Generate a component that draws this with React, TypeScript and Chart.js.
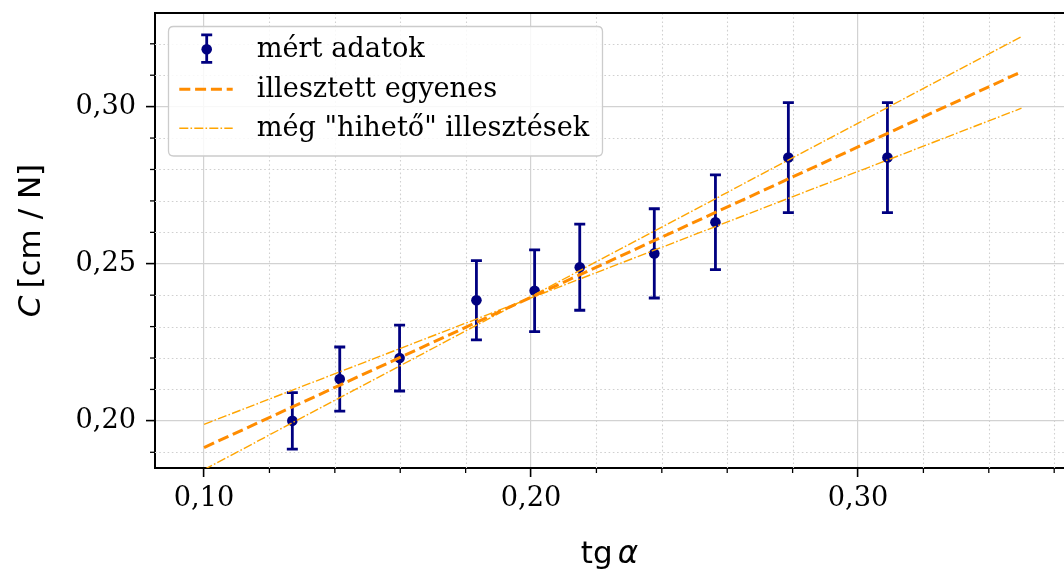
import React, { useEffect, useRef } from 'react';
import { Chart, registerables } from 'chart.js';

Chart.register(...registerables);

// ---- data ----
const xValues = [0.127, 0.1415, 0.1598, 0.1833, 0.2011, 0.2149, 0.2377, 0.2564, 0.2787, 0.309];
const yValues = [0.2, 0.2133, 0.22, 0.2384, 0.2414, 0.2489, 0.2533, 0.2632, 0.2838, 0.2838];
const yErrors = [0.009, 0.0102, 0.0105, 0.0126, 0.013, 0.0137, 0.0142, 0.0151, 0.0175, 0.0175];

const fitX = [0.1, 0.35];
const fitY = [0.1915, 0.3111];
const upperFitY = [0.1845, 0.3223];
const lowerFitY = [0.1989, 0.2995];

const xTicks = [0.1, 0.12, 0.14, 0.16, 0.18, 0.2, 0.22, 0.24, 0.26, 0.28, 0.3, 0.32, 0.34, 0.36];
const xMajorTicks = [0.1, 0.2, 0.3];
const yTicks = [0.19, 0.2, 0.21, 0.22, 0.23, 0.24, 0.25, 0.26, 0.27, 0.28, 0.29, 0.3, 0.31, 0.32];
const yMajorTicks = [0.2, 0.25, 0.3];

const seriesLabels = ['mért adatok', 'illesztett egyenes', 'még "hihető" illesztések'];
const xTitleParts = ['tg', 'α'];
const yTitleParts = ['C', '[cm / N]'];

const X_MIN = 0.085;
const X_MAX = 0.363;
const Y_MIN = 0.185;
const Y_MAX = 0.3298;

// ---- styles ----
const NAVY = '#000080';
const FIT_COLOR = '#ff8c00';
const RANGE_COLOR = '#ffa500';
const FIT_DASH = [11, 4.8];
const RANGE_DASH = [9, 2.2, 1.6, 2.2];
const SERIF = '"DejaVu Serif", serif';
const SANS = '"DejaVu Sans", sans-serif';
const TEXT_SIZE = 27.2;

const isMajor = (v: number, majors: number[]) => majors.some((m) => Math.abs(m - v) < 1e-6);
const fmt = (v: number) => v.toFixed(2).replace('.', ',');

const decorPlugin = {
  id: 'decor',
  beforeDatasetsDraw(chart: any) {
    const { ctx, chartArea } = chart;
    const xs = chart.scales.x;
    const ys = chart.scales.y;
    ctx.save();
    // minor dotted grid
    ctx.strokeStyle = '#d0d0d0';
    ctx.lineWidth = 1.1;
    ctx.setLineDash([1.6, 2.6]);
    xTicks.forEach((v) => {
      if (isMajor(v, xMajorTicks)) return;
      const px = Math.round(xs.getPixelForValue(v)) + 0.5;
      if (px < chartArea.left || px > chartArea.right) return;
      ctx.beginPath();
      ctx.moveTo(px, chartArea.top);
      ctx.lineTo(px, chartArea.bottom);
      ctx.stroke();
    });
    yTicks.forEach((v) => {
      if (isMajor(v, yMajorTicks)) return;
      const py = Math.round(ys.getPixelForValue(v)) + 0.5;
      if (py < chartArea.top || py > chartArea.bottom) return;
      ctx.beginPath();
      ctx.moveTo(chartArea.left, py);
      ctx.lineTo(chartArea.right, py);
      ctx.stroke();
    });
    ctx.setLineDash([]);
    // minor ticks
    ctx.strokeStyle = '#000';
    ctx.lineWidth = 1.3;
    xTicks.forEach((v) => {
      if (isMajor(v, xMajorTicks)) return;
      const px = xs.getPixelForValue(v);
      ctx.beginPath();
      ctx.moveTo(px, chartArea.bottom);
      ctx.lineTo(px, chartArea.bottom + 5);
      ctx.stroke();
    });
    yTicks.forEach((v) => {
      if (isMajor(v, yMajorTicks)) return;
      const py = ys.getPixelForValue(v);
      ctx.beginPath();
      ctx.moveTo(chartArea.left, py);
      ctx.lineTo(chartArea.left - 5, py);
      ctx.stroke();
    });
    // top spine
    ctx.lineWidth = 2;
    ctx.beginPath();
    ctx.moveTo(chartArea.left - 1, chartArea.top);
    ctx.lineTo(chartArea.right, chartArea.top);
    ctx.stroke();
    // error bars
    ctx.strokeStyle = NAVY;
    ctx.lineWidth = 2.8;
    xValues.forEach((x, i) => {
      const px = xs.getPixelForValue(x);
      const top = ys.getPixelForValue(yValues[i] + yErrors[i]);
      const bot = ys.getPixelForValue(yValues[i] - yErrors[i]);
      ctx.beginPath();
      ctx.moveTo(px, top);
      ctx.lineTo(px, bot);
      ctx.moveTo(px - 5.5, top);
      ctx.lineTo(px + 5.5, top);
      ctx.moveTo(px - 5.5, bot);
      ctx.lineTo(px + 5.5, bot);
      ctx.stroke();
    });
    ctx.restore();
  },
  afterDraw(chart: any) {
    const { ctx, chartArea } = chart;
    ctx.save();
    // legend box
    const bx = 168.5, by = 26.5, bw = 434, bh = 129.5, r = 5;
    ctx.beginPath();
    ctx.moveTo(bx + r, by);
    ctx.lineTo(bx + bw - r, by);
    ctx.quadraticCurveTo(bx + bw, by, bx + bw, by + r);
    ctx.lineTo(bx + bw, by + bh - r);
    ctx.quadraticCurveTo(bx + bw, by + bh, bx + bw - r, by + bh);
    ctx.lineTo(bx + r, by + bh);
    ctx.quadraticCurveTo(bx, by + bh, bx, by + bh - r);
    ctx.lineTo(bx, by + r);
    ctx.quadraticCurveTo(bx, by, bx + r, by);
    ctx.closePath();
    ctx.fillStyle = 'rgba(255,255,255,0.85)';
    ctx.fill();
    ctx.strokeStyle = '#cccccc';
    ctx.lineWidth = 1.3;
    ctx.stroke();

    const rows = [49.3, 89.3, 128.3];
    // errorbar icon
    const ix = 206.7;
    ctx.strokeStyle = NAVY;
    ctx.lineWidth = 2.8;
    ctx.beginPath();
    ctx.moveTo(ix, rows[0] - 14.5);
    ctx.lineTo(ix, rows[0] + 13);
    ctx.moveTo(ix - 5.5, rows[0] - 14.5);
    ctx.lineTo(ix + 5.5, rows[0] - 14.5);
    ctx.moveTo(ix - 5.5, rows[0] + 13);
    ctx.lineTo(ix + 5.5, rows[0] + 13);
    ctx.stroke();
    ctx.fillStyle = NAVY;
    ctx.beginPath();
    ctx.arc(ix, rows[0], 5.3, 0, Math.PI * 2);
    ctx.fill();
    // dashed line icon
    ctx.strokeStyle = FIT_COLOR;
    ctx.lineWidth = 3;
    ctx.setLineDash(FIT_DASH);
    ctx.beginPath();
    ctx.moveTo(179.3, rows[1]);
    ctx.lineTo(232.7, rows[1]);
    ctx.stroke();
    // dash-dot icon
    ctx.strokeStyle = RANGE_COLOR;
    ctx.lineWidth = 1.4;
    ctx.setLineDash(RANGE_DASH);
    ctx.beginPath();
    ctx.moveTo(179.3, rows[2]);
    ctx.lineTo(232.7, rows[2]);
    ctx.stroke();
    ctx.setLineDash([]);
    // legend texts
    ctx.fillStyle = '#000';
    ctx.font = `${TEXT_SIZE}px ${SERIF}`;
    ctx.textBaseline = 'middle';
    ctx.textAlign = 'left';
    seriesLabels.forEach((t, i) => ctx.fillText(t, 256.7, rows[i] + 1));

    // x title: tg α
    ctx.textBaseline = 'alphabetic';
    const normal = `31px ${SANS}`;
    const italic = `italic 31px ${SANS}`;
    ctx.font = normal;
    const w1 = ctx.measureText(xTitleParts[0]).width;
    const gap = 5;
    ctx.font = italic;
    const w2 = ctx.measureText(xTitleParts[1]).width;
    const cx = (chartArea.left + chartArea.right) / 2;
    const sx = cx - (w1 + gap + w2) / 2;
    ctx.font = normal;
    ctx.fillText(xTitleParts[0], sx, 563);
    ctx.font = italic;
    ctx.fillText(xTitleParts[1], sx + w1 + gap, 563);

    // y title: C [cm / N]
    ctx.save();
    const cy = (chartArea.top + chartArea.bottom) / 2;
    ctx.translate(40, cy);
    ctx.rotate(-Math.PI / 2);
    ctx.font = italic;
    const c1 = ctx.measureText(yTitleParts[0]).width;
    ctx.font = normal;
    const c2 = ctx.measureText(yTitleParts[1]).width;
    const g2 = 7;
    const sy = -(c1 + g2 + c2) / 2;
    ctx.font = italic;
    ctx.fillText(yTitleParts[0], sy, 0);
    ctx.font = normal;
    ctx.fillText(yTitleParts[1], sy + c1 + g2, 0);
    ctx.restore();

    ctx.restore();
  },
};

export default function App() {
  const canvasRef = useRef<HTMLCanvasElement | null>(null);

  useEffect(() => {
    if (!canvasRef.current) return;
    const chart = new Chart(canvasRef.current, {
      type: 'scatter',
      data: {
        datasets: [
          {
            type: 'scatter',
            label: seriesLabels[0],
            data: xValues.map((x, i) => ({ x, y: yValues[i] })),
            pointRadius: 5.3,
            pointHoverRadius: 5.3,
            pointBackgroundColor: NAVY,
            pointBorderColor: NAVY,
            pointBorderWidth: 0,
            order: 3,
          },
          {
            type: 'line',
            label: seriesLabels[1],
            data: fitX.map((x, i) => ({ x, y: fitY[i] })),
            borderColor: FIT_COLOR,
            borderWidth: 3,
            borderDash: FIT_DASH,
            pointRadius: 0,
            fill: false,
            order: 1,
          },
          {
            type: 'line',
            label: seriesLabels[2],
            data: fitX.map((x, i) => ({ x, y: upperFitY[i] })),
            borderColor: RANGE_COLOR,
            borderWidth: 1.4,
            borderDash: RANGE_DASH,
            pointRadius: 0,
            fill: false,
            order: 2,
          },
          {
            type: 'line',
            label: seriesLabels[2],
            data: fitX.map((x, i) => ({ x, y: lowerFitY[i] })),
            borderColor: RANGE_COLOR,
            borderWidth: 1.4,
            borderDash: RANGE_DASH,
            pointRadius: 0,
            fill: false,
            order: 2,
          },
        ],
      } as any,
      options: {
        responsive: false,
        animation: false,
        devicePixelRatio: 1,
        layout: { autoPadding: false, padding: { top: 13, left: 0, right: 0, bottom: 0 } },
        plugins: { legend: { display: false }, tooltip: { enabled: false } },
        scales: {
          x: {
            type: 'linear',
            min: X_MIN,
            max: X_MAX,
            afterBuildTicks: (s: any) => {
              s.ticks = xTicks.map((v) => ({ value: v }));
            },
            afterFit: (s: any) => {
              s.height = 102;
              s.paddingLeft = 0;
              s.paddingRight = 0;
              s.paddingTop = 0;
              s.paddingBottom = 0;
            },
            ticks: {
              autoSkip: false,
              maxRotation: 0,
              minRotation: 0,
              callback: (v: any) => (isMajor(Number(v), xMajorTicks) ? fmt(Number(v)) : null),
              font: { family: SERIF, size: TEXT_SIZE },
              color: '#000',
              padding: 6,
            },
            grid: {
              color: (c: any) => (c.tick && isMajor(c.tick.value, xMajorTicks) ? '#d2d2d2' : 'rgba(0,0,0,0)'),
              lineWidth: 1.2,
              tickLength: 9,
              tickWidth: 1.6,
              tickColor: (c: any) => (c.tick && isMajor(c.tick.value, xMajorTicks) ? '#000' : 'rgba(0,0,0,0)'),
            },
            border: { display: true, color: '#000', width: 2 },
          },
          y: {
            type: 'linear',
            min: Y_MIN,
            max: Y_MAX,
            afterBuildTicks: (s: any) => {
              s.ticks = yTicks.map((v) => ({ value: v }));
            },
            afterFit: (s: any) => {
              s.width = 155;
              s.paddingLeft = 0;
              s.paddingRight = 0;
              s.paddingTop = 0;
              s.paddingBottom = 0;
            },
            ticks: {
              autoSkip: false,
              callback: (v: any) => (isMajor(Number(v), yMajorTicks) ? fmt(Number(v)) : null),
              font: { family: SERIF, size: TEXT_SIZE },
              color: '#000',
              padding: 10,
            },
            grid: {
              color: (c: any) => (c.tick && isMajor(c.tick.value, yMajorTicks) ? '#d2d2d2' : 'rgba(0,0,0,0)'),
              lineWidth: 1.2,
              tickLength: 9,
              tickWidth: 1.6,
              tickColor: (c: any) => (c.tick && isMajor(c.tick.value, yMajorTicks) ? '#000' : 'rgba(0,0,0,0)'),
            },
            border: { display: true, color: '#000', width: 2 },
          },
        },
      } as any,
      plugins: [decorPlugin],
    });
    return () => chart.destroy();
  }, []);

  return (
    <div style={{ position: 'absolute', left: 0, top: 0, width: 1064, height: 570, background: '#fff' }}>
      <canvas ref={canvasRef} width={1064} height={570} style={{ display: 'block' }} />
    </div>
  );
}
